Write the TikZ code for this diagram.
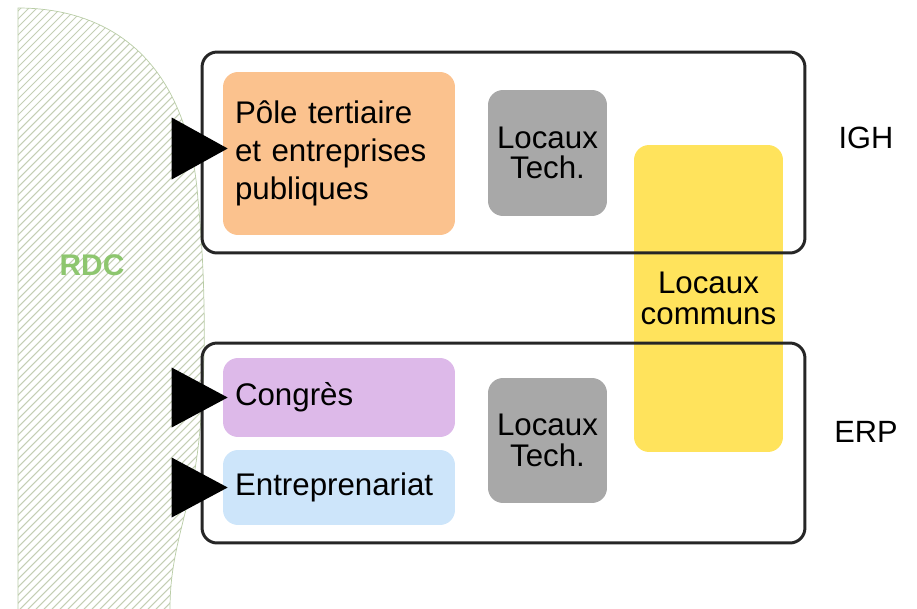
\documentclass[tikz,border=0pt]{standalone}
\usepackage{fontspec}
\setmainfont{Liberation Sans}
\usetikzlibrary{positioning}
\definecolor{orangepole}{HTML}{FBC28E}
\definecolor{grislocal}{HTML}{A8A8A8}
\definecolor{jaunecommun}{HTML}{FFE35C}
\definecolor{violetcongres}{HTML}{DDB9E9}
\definecolor{bleuentre}{HTML}{CDE5FA}
\definecolor{vertrdc}{HTML}{8DC66E}
\definecolor{hachure}{HTML}{C4CEB4}
\tikzset{
  zone/.style={draw=black!85, line width=1.7pt, rounded corners=0.3cm,
    minimum width=12.06cm, minimum height=4.02cm},
  piece/.style={rounded corners=0.3cm, inner sep=0pt,
    font=\fontsize{17.8}{21.5}\selectfont},
  pieceg/.style={piece, inner xsep=0.24cm, text width=4.16cm, align=left,
    minimum width=4.64cm},
  tech/.style={piece, fill=grislocal, minimum width=2.38cm, minimum height=2.52cm,
    align=center, font=\fontsize{17.8}{17.5}\selectfont},
  entree/.style={fill=black},
  etiquette/.style={font=\fontsize{17.5}{20}\selectfont},
}
\newcommand{\contourRDC}{(18,609) -- (18,8) .. controls (110,8) and (188,60) .. (198,200)
  .. controls (208,300) and (206,420) .. (192,485) .. controls (180,535) and (170,565) .. (170,609)}

\begin{document}
\begin{tikzpicture}[x=0.02cm, y=-0.02cm]
  \useasboundingbox (0,0) rectangle (917,609);

  % RDC hachure
  \begin{scope}
    \clip \contourRDC;
    \foreach \i in {-620,-612,...,220}
      \draw[hachure, line width=0.6pt] (\i,609) -- ++(609,-609);
  \end{scope}
  \draw[hachure!80!vertrdc, line width=0.4pt] \contourRDC;
  \node[font=\fontsize{17}{20}\selectfont\bfseries, text=vertrdc] (rdc) at (92,265) {RDC};

  % Locaux communs (sous les zones)
  \node[piece, fill=jaunecommun, minimum width=2.98cm, minimum height=6.14cm,
    align=center, font=\fontsize{17.8}{17.5}\selectfont] (communs) at (708.5,298.5) {Locaux\\communs};

  % zones IGH et ERP
  \node[zone] (igh) at (503.5,152.5) {};
  \node[zone, minimum height=4cm] (erp) at (503.5,443) {};
  \node[etiquette] (lbligh) at (866,138) {IGH};
  \node[etiquette] (lblerp) at (866,432) {ERP};

  % pieces
  \node[pieceg, fill=orangepole, minimum height=3.26cm] (pole) at (339,153.5)
    {P\^ole tertiaire\\et entreprises\\publiques};
  \node[tech] (techh) at (547.5,153) {Locaux\\Tech.};
  \node[pieceg, fill=violetcongres, minimum height=1.58cm] (congres) at (339,397.5) {Congr\`es};
  \node[pieceg, fill=bleuentre, minimum height=1.5cm] (entre) at (339,487.5) {Entreprenariat};
  \node[tech, minimum height=2.5cm] (techb) at (547.5,440.5) {Locaux\\Tech.};

  % acces depuis le RDC
  \fill[entree] ([shift={(5,-5)}]pole.west) -- ++(-56,-31) -- ++(0,62) -- cycle;
  \fill[entree] ([shift={(5,0)}]congres.west) -- ++(-56,-30) -- ++(0,60) -- cycle;
  \fill[entree] ([shift={(5,0)}]entre.west) -- ++(-56,-30) -- ++(0,60) -- cycle;
\end{tikzpicture}
\end{document}
